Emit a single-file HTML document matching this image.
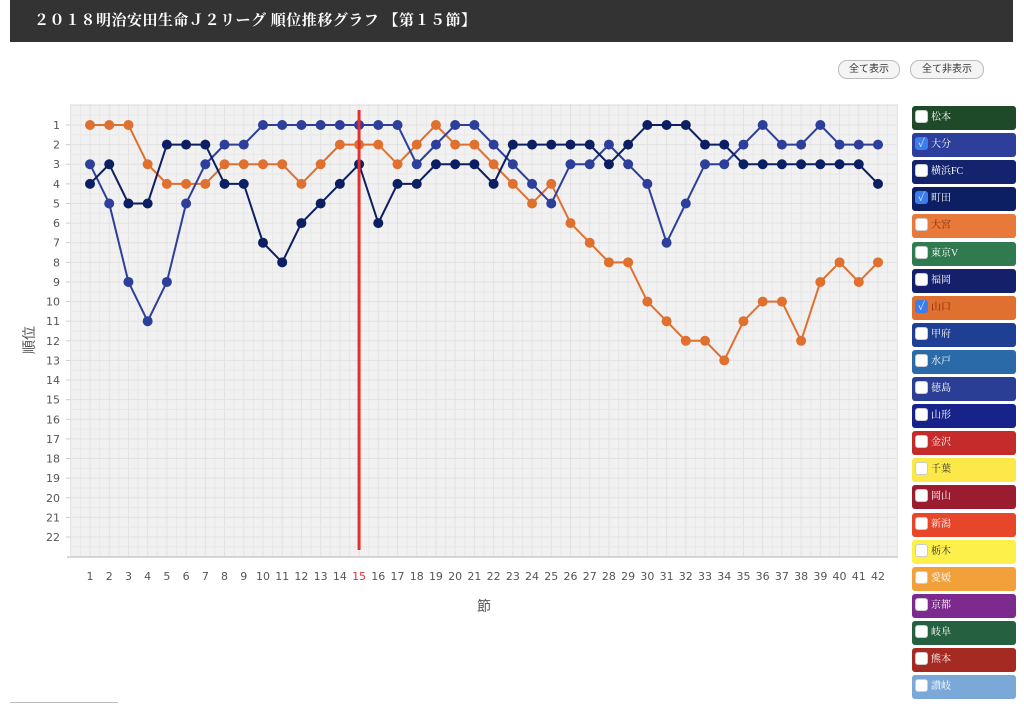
<!DOCTYPE html>
<html><head><meta charset="utf-8">
<style>
body{margin:0;width:1024px;height:704px;background:#fff;position:relative;overflow:hidden;font-family:"Liberation Sans","Noto Sans CJK JP",sans-serif}
.title{position:absolute;left:10px;top:0;width:1003px;height:42px;background:#333;color:#fff;font-family:"Liberation Serif","Noto Serif CJK SC",serif;font-weight:bold;font-size:15px;line-height:42px;padding-left:24px;box-sizing:border-box;letter-spacing:0.5px}
.btn{position:absolute;top:60px;height:17px;border:1px solid #bbb;border-radius:9px;background:#f4f4f4;font-size:10px;line-height:17px;text-align:center;color:#333}
.leg{position:absolute;left:912px;width:104px;height:24px;border-radius:3px;color:#fff;font-family:"Liberation Serif","Noto Serif CJK JP",serif;font-size:10px;line-height:24px;box-sizing:border-box;padding-left:19px}
.leg .cb{position:absolute;left:3px;top:4px;width:13px;height:13px;border-radius:3px;background:#fff;border:1px solid #ccc;box-sizing:border-box}
.leg .cb.on{background:#3b7ded;border-color:#3b7ded;color:#fff;font-size:11px;line-height:12px;text-align:center}
</style></head><body>
<div class="title">２０１８明治安田生命Ｊ２リーグ 順位推移グラフ 【第１５節】</div>
<div class="btn" style="left:838px;width:60px">全て表示</div>
<div class="btn" style="left:910px;width:72px">全て非表示</div>
<svg id="chart" width="1024" height="704" style="position:absolute;left:0;top:0"></svg>
<div id="legend"></div>
<div style="position:absolute;left:10px;top:702px;width:108px;height:1px;background:#bbb"></div>
<script>
const rounds=[];for(let i=1;i<=42;i++)rounds.push(i);
const rankTicks=[1,2,3,4,5,6,7,8,9,10,11,12,13,14,15,16,17,18,19,20,21,22];
const currentRound=15;
const oita=[3,5,9,11,9,5,3,2,2,1,1,1,1,1,1,1,1,3,2,1,1,2,3,4,5,3,3,2,3,4,7,5,3,3,2,1,2,2,1,2,2,2];
const machida=[4,3,5,5,2,2,2,4,4,7,8,6,5,4,3,6,4,4,3,3,3,4,2,2,2,2,2,3,2,1,1,1,2,2,3,3,3,3,3,3,3,4];
const yamaguchi=[1,1,1,3,4,4,4,3,3,3,3,4,3,2,2,2,3,2,1,2,2,3,4,5,4,6,7,8,8,10,11,12,12,13,11,10,10,12,9,8,9,8];
const teams=["松本","大分","横浜FC","町田","大宮","東京V","福岡","山口","甲府","水戸","徳島","山形","金沢","千葉","岡山","新潟","栃木","愛媛","京都","岐阜","熊本","讃岐"];
const teamColors=["#1e4a2a","#2d3f9a","#13236e","#0d1f63","#e8793a","#2f7a4f","#14206a","#e0702f","#1f3f95","#2a6aa8","#2a3e96","#17228a","#c42b2b","#fde84a","#9b1c2e","#e8462a","#fdf04a","#f2a03a","#7d2a8f","#256040","#a52a22","#7aa8d8"];
const checked=["大分","町田","山口"];

const NS="http://www.w3.org/2000/svg";
const svg=document.getElementById('chart');
const X0=70,X1=898,Y0=104,Y1=557;
const xs=r=>90+(r-1)*(878-90)/41;
const ys=v=>125+(v-1)*(537-125)/21;
function mk(t,a){const e=document.createElementNS(NS,t);for(const k in a)e.setAttribute(k,a[k]);svg.appendChild(e);return e;}
let bg=mk('rect',{x:X0,y:Y0,width:X1-X0,height:Y1-Y0,fill:'#f1f1f1'});


for(let r=0;r<=43;r++){const x=xs(r)+(r===0?-0:0);if(x<X0||x>X1)continue;mk('line',{x1:x,y1:Y0,x2:x,y2:Y1,stroke:'#e2e2e2','stroke-width':1});}
for(let r=0;r<=42;r++){const x=xs(r)+9.6;if(x<X0||x>X1)continue;mk('line',{x1:x,y1:Y0,x2:x,y2:Y1,stroke:'#e8e8e8','stroke-width':1});}
for(let v=0;v<=23;v++){for(const o of [0,9.8]){const y=ys(v)+o;if(y<Y0||y>Y1)continue;mk('line',{x1:X0,y1:y,x2:X1,y2:y,stroke:o?'#e8e8e8':'#e2e2e2','stroke-width':1});}}
mk('line',{x1:X0-3,y1:Y1,x2:X1,y2:Y1,stroke:'#ccc','stroke-width':1.5});
rankTicks.forEach(v=>{
  const t=mk('text',{x:60,y:ys(v)+4,'text-anchor':'end','font-size':11,fill:'#555','font-family':'DejaVu Sans, sans-serif'});t.textContent=v;
  
  
  mk('line',{x1:X0-4,y1:ys(v),x2:X0,y2:ys(v),stroke:'#ccc'});
});
rounds.forEach(r=>{
  const t=mk('text',{x:xs(r),y:580,'text-anchor':'middle','font-size':11,fill:r===currentRound?'#d33':'#555','font-family':'DejaVu Sans, sans-serif'});t.textContent=r;
  
  
});
let xt=mk('text',{x:484,y:611,'text-anchor':'middle','font-size':14,fill:'#555','font-family':'Noto Sans CJK JP, sans-serif'});xt.textContent='節';


let yt=mk('text',{x:34,y:340,'text-anchor':'middle','font-size':14,fill:'#555','font-family':'Noto Sans CJK JP, sans-serif',transform:'rotate(-90 34 340)'});yt.textContent='順位';


const series=[[yamaguchi,'#e0702f','yamaguchi'],[oita,'#2d3f9a','oita'],[machida,'#0d1f63','machida']];
series.forEach(([d,c,n])=>{
  const p=mk('polyline',{points:d.map((v,i)=>xs(rounds[i])+','+ys(v)).join(' '),fill:'none',stroke:c,'stroke-width':2});
  
  
  d.forEach((v,i)=>{const m=mk('circle',{cx:xs(rounds[i]),cy:ys(v),r:5,fill:c});
    
    });
});
let cl=mk('line',{x1:xs(currentRound),y1:110,x2:xs(currentRound),y2:550,stroke:'#e53030','stroke-width':3});


const lg=document.getElementById('legend');
teams.forEach((t,i)=>{
  const d=document.createElement('div');d.className='leg';
  d.style.top=(106+i*27.1)+'px';d.style.background=teamColors[i];
  if(["千葉","栃木"].includes(t))d.style.color='#333';
  if(["大宮","山口"].includes(t))d.style.color='#7a2a10';
  const on=checked.includes(t);
  d.innerHTML='<span class="cb'+(on?' on':'')+'">'+(on?'✓':'')+'</span>'+t;
  
  
  lg.appendChild(d);
});
</script>
</body></html>
